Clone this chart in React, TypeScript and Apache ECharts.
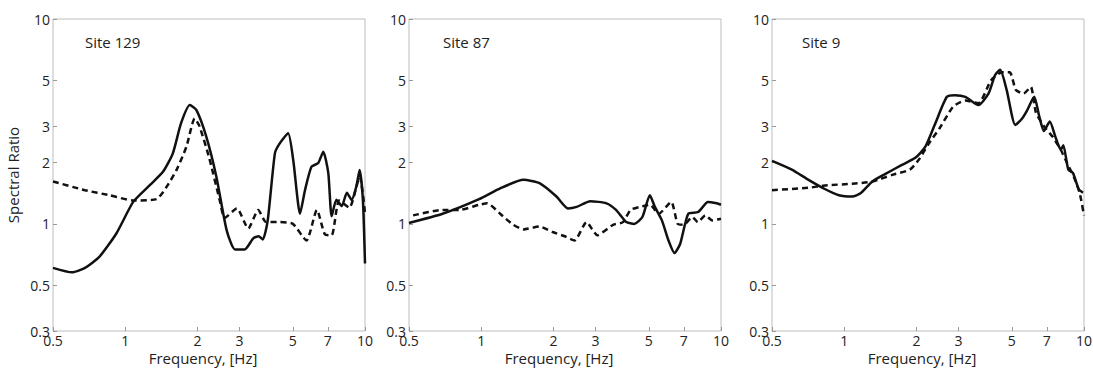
import React, { useEffect, useRef } from "react";
import * as echarts from "echarts";

const X_TICKS = [0.5, 1, 2, 3, 5, 7, 10];
const Y_TICKS = [0.3, 0.5, 1, 2, 3, 5, 10];
const SITES = ["Site 129", "Site 87", "Site 9"];

// Site 129
const s129SolidF = [0.5, 0.6, 0.68, 0.78, 0.92, 1.08, 1.27, 1.44, 1.58, 1.71, 1.86, 1.98, 2.18, 2.4, 2.65, 2.87, 3.15, 3.42, 3.6, 3.75, 3.93, 4.21, 4.41, 4.78, 5.02, 5.36, 5.62, 5.98, 6.38, 6.7, 7.03, 7.26, 7.6, 8.0, 8.4, 8.8, 9.2, 9.5, 9.8, 10];
const s129SolidV = [0.61, 0.58, 0.61, 0.69, 0.9, 1.28, 1.55, 1.8, 2.21, 3.1, 3.8, 3.6, 2.66, 1.7, 0.93, 0.75, 0.75, 0.85, 0.87, 0.84, 1.04, 2.21, 2.47, 2.77, 2.05, 1.12, 1.46, 1.9, 1.98, 2.25, 1.77, 1.09, 1.31, 1.22, 1.42, 1.31, 1.52, 1.83, 1.31, 0.64];
const s129DashF = [0.5, 0.68, 0.86, 1.08, 1.35, 1.48, 1.64, 1.8, 1.95, 2.04, 2.24, 2.48, 2.6, 2.92, 3.26, 3.59, 3.87, 4.41, 5.0, 5.7, 6.3, 6.8, 7.26, 7.8, 8.6, 9.5, 10];
const s129DashV = [1.61, 1.46, 1.38, 1.3, 1.32, 1.5, 1.84, 2.38, 3.27, 3.0, 2.1, 1.3, 1.07, 1.19, 0.95, 1.17, 1.02, 1.02, 1.0, 0.83, 1.17, 0.89, 0.88, 1.3, 1.2, 1.7, 1.13];

// Site 87
const s87SolidF = [0.5, 0.69, 0.98, 1.2, 1.5, 1.75, 2.06, 2.3, 2.5, 2.85, 3.33, 3.65, 4.03, 4.35, 4.7, 5.05, 5.3, 5.67, 6.04, 6.4, 6.76, 7.3, 8.0, 8.4, 8.8, 9.6, 10];
const s87SolidV = [1.01, 1.12, 1.32, 1.49, 1.64, 1.58, 1.36, 1.19, 1.21, 1.29, 1.26, 1.17, 1.02, 1.0, 1.08, 1.38, 1.21, 1.04, 0.83, 0.72, 0.8, 1.12, 1.14, 1.21, 1.28, 1.26, 1.24];
const s87DashF = [0.52, 0.69, 0.81, 0.98, 1.06, 1.2, 1.36, 1.5, 1.75, 2.0, 2.23, 2.45, 2.75, 3.05, 3.55, 3.9, 4.2, 4.6, 5.05, 5.5, 6.2, 6.6, 7.0, 7.6, 8.0, 8.6, 9.2, 10];
const s87DashV = [1.1, 1.17, 1.17, 1.24, 1.26, 1.12, 0.99, 0.94, 0.97, 0.91, 0.87, 0.83, 1.02, 0.88, 0.99, 1.02, 1.17, 1.21, 1.24, 1.12, 1.28, 1.0, 0.99, 1.08, 1.02, 1.1, 1.04, 1.06];

// Site 9
const s9SolidF = [0.5, 0.605, 0.71, 0.83, 0.95, 1.08, 1.17, 1.31, 1.48, 1.74, 1.98, 2.18, 2.4, 2.68, 2.9, 3.2, 3.63, 4.0, 4.26, 4.47, 4.76, 5.17, 5.5, 5.77, 6.2, 6.5, 6.8, 7.2, 7.6, 8.0, 8.2, 8.6, 9.0, 9.5, 9.9];
const s9SolidV = [2.03, 1.84, 1.64, 1.48, 1.38, 1.36, 1.41, 1.61, 1.75, 1.94, 2.1, 2.38, 3.1, 4.17, 4.25, 4.17, 3.8, 4.33, 5.33, 5.65, 4.5, 3.04, 3.25, 3.55, 4.17, 3.37, 2.84, 3.16, 2.66, 2.3, 2.42, 1.84, 1.77, 1.48, 1.42];
const s9DashF = [0.5, 0.71, 0.83, 1.08, 1.31, 1.6, 1.88, 2.05, 2.25, 2.5, 2.85, 3.2, 3.63, 4.1, 4.55, 4.9, 5.2, 5.6, 6.0, 6.3, 6.8, 7.4, 8.0, 8.5, 9.1, 9.6, 10];
const s9DashV = [1.46, 1.5, 1.54, 1.57, 1.61, 1.74, 1.84, 2.06, 2.46, 2.93, 3.74, 4.0, 3.88, 5.03, 5.5, 5.5, 4.5, 4.33, 4.66, 3.5, 3.0, 2.66, 2.3, 1.98, 1.68, 1.41, 1.1];

const PANELS = [
  { solidF: s129SolidF, solidV: s129SolidV, dashF: s129DashF, dashV: s129DashV },
  { solidF: s87SolidF, solidV: s87SolidV, dashF: s87DashF, dashV: s87DashV },
  { solidF: s9SolidF, solidV: s9SolidV, dashF: s9DashF, dashV: s9DashV },
];

const LEFTS = [53, 409, 772];
const GRID_TOP = 19;
const GRID_SIZE = 312;
const FONT = "'Open Sans', 'Noto Sans', sans-serif";

const lg = (v: number) => Math.log10(v);
const pairs = (f: number[], v: number[]) => f.map((x, i) => [lg(x), lg(v[i])]);
const fmt = (v: number) => String(Math.round(Math.pow(10, v) * 10) / 10);

export default function App() {
  const ref = useRef<HTMLDivElement>(null);
  useEffect(() => {
    if (!ref.current) return;
    const chart = echarts.init(ref.current, undefined, { renderer: "svg" });
    const grids = LEFTS.map((l) => ({
      left: l,
      top: GRID_TOP,
      width: GRID_SIZE,
      height: GRID_SIZE,
      show: true,
      borderColor: "#bdbdbd",
      borderWidth: 1,
      backgroundColor: "transparent",
      containLabel: false,
      outerBoundsMode: "none",
    }));
    const xAxes = LEFTS.map((_, i) => ({
      type: "value",
      gridIndex: i,
      position: "bottom",
      min: lg(0.5),
      max: 1,
      name: "Frequency, [Hz]",
      nameLocation: "middle",
      nameGap: 19,
      nameMoveOverlap: false,
      nameTextStyle: { fontFamily: FONT, fontSize: 15, color: "#222", padding: [0, 12, 0, 0] },
      splitLine: { show: false },
      axisLine: { show: false, onZero: false },
      axisTick: { show: true, inside: true, length: 4, lineStyle: { color: "#999" }, customValues: X_TICKS.map(lg) },
      axisLabel: { fontFamily: FONT, fontSize: 14, color: "#222", margin: 2, customValues: X_TICKS.map(lg), formatter: fmt },
    }));
    const yAxes = LEFTS.map((_, i) => ({
      type: "value",
      gridIndex: i,
      position: "left",
      min: lg(0.3),
      max: 1,
      name: i === 0 ? "Spectral Ratio" : "",
      nameLocation: "middle",
      nameGap: 33,
      nameMoveOverlap: false,
      nameTextStyle: { fontFamily: FONT, fontSize: 15, color: "#222" },
      splitLine: { show: false },
      axisLine: { show: false, onZero: false },
      axisTick: { show: true, inside: true, length: 4, lineStyle: { color: "#999" }, customValues: Y_TICKS.map(lg) },
      axisLabel: { fontFamily: FONT, fontSize: 14, color: "#222", margin: 3, customValues: Y_TICKS.map(lg), formatter: fmt },
    }));
    const series: any[] = [];
    PANELS.forEach((p, i) => {
      series.push({
        type: "line",
        xAxisIndex: i,
        yAxisIndex: i,
        data: pairs(p.dashF, p.dashV),
        showSymbol: false,
        smooth: 0.2,
        lineStyle: { color: "#111", width: 2.5, type: [6, 4] },
      });
      series.push({
        type: "line",
        xAxisIndex: i,
        yAxisIndex: i,
        data: pairs(p.solidF, p.solidV),
        showSymbol: false,
        smooth: 0.2,
        lineStyle: { color: "#111", width: 2.5 },
      });
    });
    const labelX = [85, 443, 802];
    chart.setOption({
      animation: false,
      backgroundColor: "#fff",
      grid: grids,
      xAxis: xAxes,
      yAxis: yAxes,
      series,
      graphic: SITES.map((s, i) => ({
        type: "text",
        left: labelX[i],
        top: 34,
        style: { text: s, fontFamily: FONT, fontSize: 15, fill: "#222" },
      })),
    });
    return () => chart.dispose();
  }, []);
  return <div ref={ref} style={{ position: "absolute", left: 0, top: 0, width: 1093, height: 369 }} />;
}
